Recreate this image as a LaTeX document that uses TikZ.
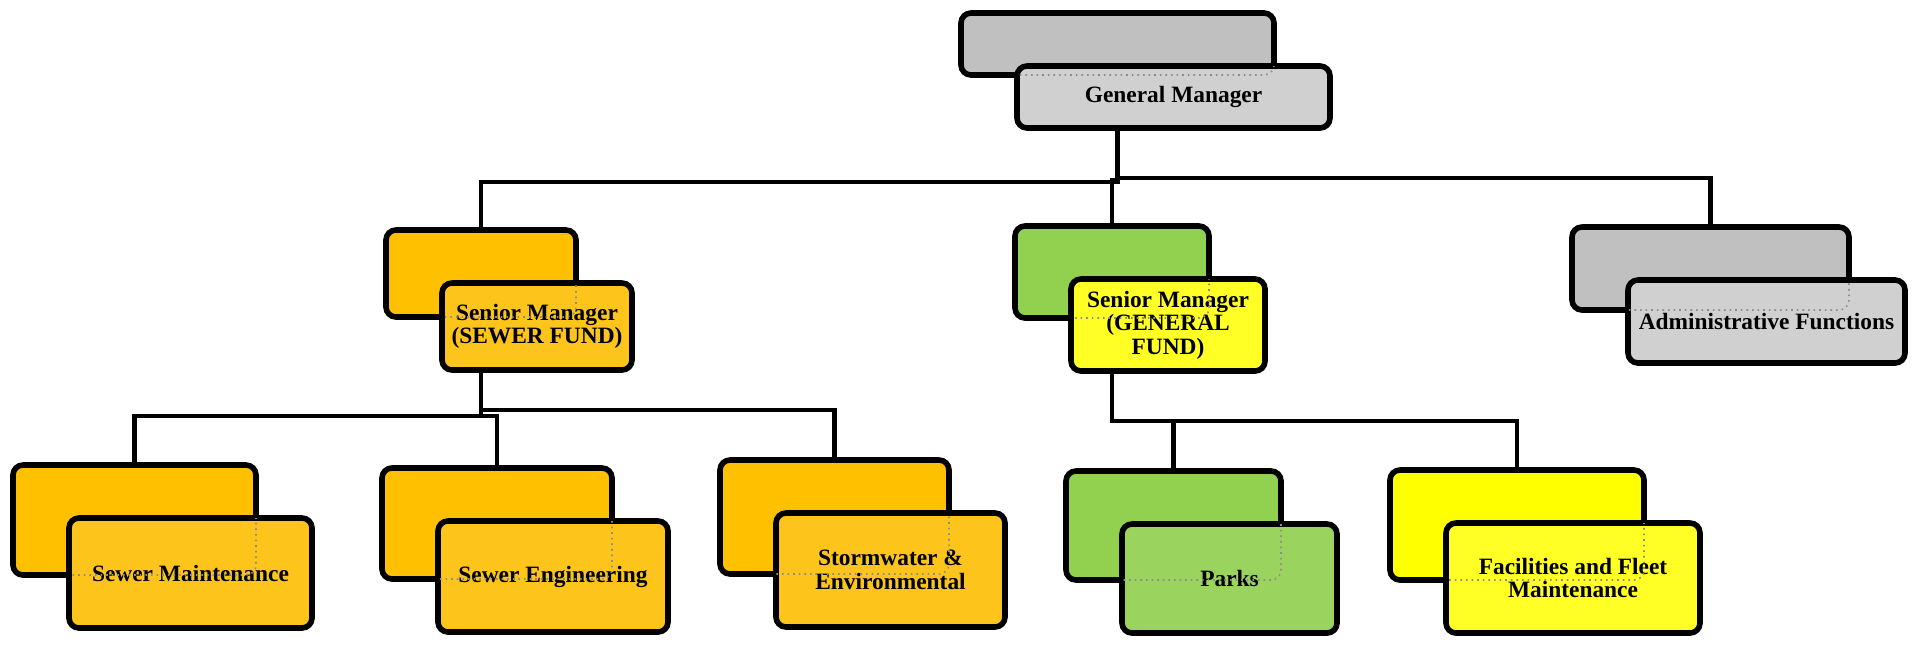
\documentclass[tikz,border=0pt]{standalone}
\usepackage{fontspec}
\setmainfont{Liberation Serif}
\usetikzlibrary{backgrounds,calc}
\definecolor{grayB}{HTML}{C0C0C0}
\definecolor{grayF}{HTML}{D0D0D0}
\definecolor{orangeB}{HTML}{FFC000}
\definecolor{orangeF}{HTML}{FDC41C}
\definecolor{greenB}{HTML}{92D050}
\definecolor{greenF}{HTML}{9AD45E}
\definecolor{yellowB}{HTML}{FFFF00}
\definecolor{yellowF}{HTML}{FFFF26}
\newcommand\orgpair[8]{%
  \node[orgbox, fill=#6, minimum width=#4pt, minimum height=#5pt] (#1B) at (#2,#3) {};
  \node[orgbox, fill=#7, minimum width=#4pt, minimum height=#5pt, lbl] (#1) at ($(#1B.center)+(56,53)$) {#8};
  \begin{scope}
    \clip[rounded corners=5pt] (#1.south west) rectangle (#1.north east);
    \draw[ghost] (#1B.south west) rectangle (#1B.north east);
  \end{scope}}
\begin{document}
\begin{tikzpicture}[x=0.5pt,y=-0.5pt,
  orgbox/.style={rectangle, draw=black, line width=2.8pt, rounded corners=5pt, inner sep=0pt, outer sep=0pt},
  lbl/.style={align=center, font=\bfseries\fontsize{11.7}{11.8}\selectfont},
  ghost/.style={draw=black!45, dotted, line width=0.8pt, rounded corners=5pt},
  conn/.style={draw=black, line width=2.3pt}]
\useasboundingbox (0,0) rectangle (1918,644);

\orgpair{gm}{1117.5}{44}{156.5}{31}{grayB}{grayF}{General Manager}
\orgpair{ssm}{481}{273.5}{95}{43.5}{orangeB}{orangeF}{Senior Manager\\(SEWER FUND)}
\orgpair{gsm}{1112}{272}{97}{46}{greenB}{yellowF}{Senior Manager\\(GENERAL\\FUND)}
\orgpair{adm}{1710.5}{268.5}{138.5}{41.5}{grayB}{grayF}{Administrative Functions}
\orgpair{sm}{134.5}{520}{121.5}{55}{orangeB}{orangeF}{Sewer Maintenance}
\orgpair{se}{497}{523.5}{115}{55.5}{orangeB}{orangeF}{Sewer Engineering}
\orgpair{sw}{834.5}{517}{114.5}{57}{orangeB}{orangeF}{Stormwater \&\\Environmental}
\orgpair{pk}{1173.5}{525.5}{107.5}{54.5}{greenB}{greenF}{Parks}
\orgpair{fc}{1517}{525}{127}{55}{yellowB}{yellowF}{Facilities and Fleet\\Maintenance}

\coordinate (b1) at (0,182);
\coordinate (b2) at (0,180);
\coordinate (b3) at (0,178);
\coordinate (s1) at (0,416);
\coordinate (s2) at (0,410);
\coordinate (g1) at (0,421);

\begin{pgfonlayer}{background}
  \fill[white] (0,0) rectangle (1918,644);
  \draw[conn] (gmB.south) -- (gmB.south |- b1) -| (ssmB.north);
  \draw[conn] (gmB.south) -- (gmB.south |- b2) -| (gsmB.north);
  \draw[conn] (gmB.south) -- (gmB.south |- b3) -| (admB.north);
  \draw[conn] (ssmB.south) -- (ssmB.south |- s1) -| (smB.north);
  \draw[conn] (ssmB.south) -- (ssmB.south |- s1) -| (seB.north);
  \draw[conn] (ssmB.south) -- (ssmB.south |- s2) -| (swB.north);
  \draw[conn] (gsmB.south) -- (gsmB.south |- g1) -| (pkB.north);
  \draw[conn] (gsmB.south) -- (gsmB.south |- g1) -| (fcB.north);
\end{pgfonlayer}
\end{tikzpicture}
\end{document}
